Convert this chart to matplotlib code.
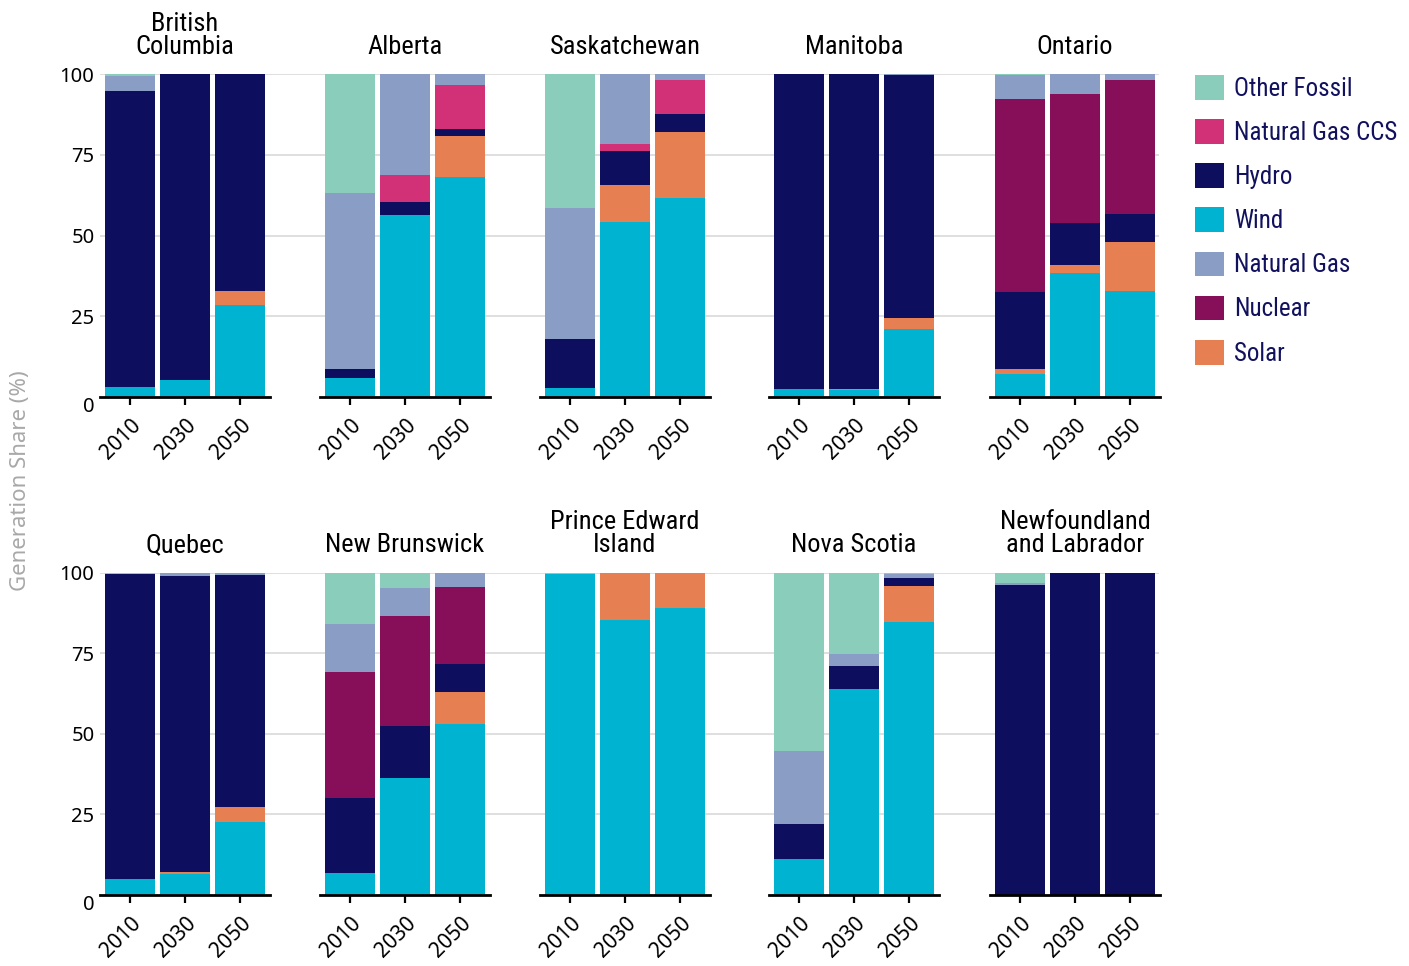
import matplotlib
matplotlib.use("Agg")
import matplotlib.pyplot as plt
from matplotlib import font_manager
from matplotlib.patches import Patch

# provinces in panel order (two rows of five) and scenario years
provinces = ["British\nColumbia", "Alberta", "Saskatchewan", "Manitoba", "Ontario",
             "Quebec", "New Brunswick", "Prince Edward\nIsland", "Nova Scotia",
             "Newfoundland\nand Labrador"]
years = ["2010", "2030", "2050"]

# generation share (%) per province, one row per province: [2010, 2030, 2050]
wind = [[3.0, 5.3, 28.5], [6.0, 56.3, 68.1], [2.9, 54.3, 61.7], [2.5, 2.2, 21.0],
        [7.2, 38.4, 32.8], [5.0, 6.5, 22.7], [6.9, 36.3, 53.0], [99.7, 85.4, 89.1],
        [11.1, 63.8, 84.6], [0, 0, 0]]
solar = [[0, 0, 4.3], [0, 0, 12.7], [0, 11.3, 20.3], [0, 0.3, 3.6],
         [1.5, 2.5, 15.2], [0, 0.6, 4.5], [0, 0, 10.1], [0, 14.6, 10.9],
         [0, 0, 11.3], [0, 0, 0]]
hydro = [[91.8, 94.7, 67.2], [2.7, 4.1, 2.2], [15.1, 10.6, 5.6], [97.5, 97.5, 75.2],
         [23.9, 13.0, 8.7], [94.7, 92.0, 72.2], [23.2, 16.1, 8.7], [0, 0, 0],
         [10.9, 7.1, 2.6], [96.3, 100, 100]]
nuclear = [[0, 0, 0], [0, 0, 0], [0, 0, 0], [0, 0, 0],
           [59.7, 39.9, 41.4], [0, 0, 0], [39.2, 34.3, 23.9], [0, 0, 0],
           [0, 0, 0], [0, 0, 0]]
ng_ccs = [[0, 0, 0], [0, 8.3, 13.6], [0, 2.1, 10.5], [0, 0, 0],
          [0, 0, 0], [0, 0, 0], [0, 0, 0], [0, 0, 0],
          [0, 0, 0], [0, 0, 0]]
natural_gas = [[4.6, 0, 0], [54.4, 31.3, 3.4], [40.5, 21.7, 1.9], [0, 0, 0.2],
               [7.5, 6.2, 1.9], [0, 0.9, 0.6], [14.9, 8.5, 4.3], [0, 0, 0],
               [22.6, 4.0, 1.1], [0.5, 0, 0]]
other_fossil = [[0.6, 0, 0], [36.9, 0, 0], [41.5, 0, 0], [0, 0, 0],
                [0.2, 0, 0], [0.3, 0, 0], [15.8, 4.8, 0], [0.3, 0, 0],
                [55.4, 25.1, 0.4], [3.2, 0, 0]]

# stacking order bottom -> top
stack = [("Wind", wind, "#00B3D1"),
         ("Solar", solar, "#E68052"),
         ("Hydro", hydro, "#0E0E5E"),
         ("Nuclear", nuclear, "#870F5A"),
         ("Natural Gas CCS", ng_ccs, "#D33177"),
         ("Natural Gas", natural_gas, "#8A9DC4"),
         ("Other Fossil", other_fossil, "#8ACDBA")]
legend_order = ["Other Fossil", "Natural Gas CCS", "Hydro", "Wind",
                "Natural Gas", "Nuclear", "Solar"]

# pick a narrow face for titles / legend if one is around
installed = {f.name for f in font_manager.fontManager.ttflist}
narrow = None
for name in ["Liberation Sans Narrow", "Roboto Condensed", "Open Sans Condensed",
             "Noto Sans Condensed", "Fira Sans Condensed"]:
    if name in installed:
        narrow = name
        break
if narrow is None:
    narrow_kw = dict(family="Noto Sans", fontstretch="condensed")
else:
    narrow_kw = dict(family=narrow)

plt.rcParams["font.family"] = ["Noto Sans", "DejaVu Sans"]

W, H = 1409, 966
fig = plt.figure(figsize=(W / 100, H / 100), dpi=100)

lefts = [100, 320, 540, 769, 990]
right_end = 1159
unit = 55.0          # px per bar slot
bar_w = 50 / unit
rows_px = [(74, 397), (572.7, 895)]
navy = "#11115E"

for i, prov in enumerate(provinces):
    r, c = divmod(i, 5)
    top_px, bot_px = rows_px[r]
    l_px = lefts[c]
    r_px = lefts[c + 1] if c < 4 else right_end
    ax = fig.add_axes([l_px / W, 1 - bot_px / H, (r_px - l_px) / W, (bot_px - top_px) / H])

    x = range(len(years))
    bottom = [0, 0, 0]
    for name, vals, col in stack:
        v = vals[i]
        ax.bar(x, v, width=bar_w, bottom=bottom, color=col, linewidth=0, zorder=3)
        bottom = [b + a for b, a in zip(bottom, v)]

    ax.set_xlim(-30 / unit, -30 / unit + (r_px - l_px) / unit)
    ax.set_ylim(0, 100)
    for s in ["top", "right", "left"]:
        ax.spines[s].set_visible(False)
    ax.spines["bottom"].set_bounds(-30 / unit, 2 + 30 / unit)
    ax.spines["bottom"].set_linewidth(2.0)
    ax.spines["bottom"].set_zorder(4)

    ax.set_yticks([25, 50, 75, 100])
    ax.yaxis.grid(True, color="#DCDCDC", linewidth=1.3, zorder=0)
    ax.tick_params(axis="y", length=0, pad=4, labelsize=14.5)
    if c != 0:
        ax.tick_params(axis="y", labelleft=False)
    else:
        ax.annotate("0", xy=(0, 0), xycoords="axes fraction", xytext=(-4, -7),
                    textcoords="offset points", ha="right", va="center", fontsize=14.5)

    ax.set_xticks(list(x))
    ax.set_xticklabels(years, rotation=45, ha="right", va="top", rotation_mode="anchor")
    ax.tick_params(axis="x", length=6, width=1.6, pad=7, labelsize=15)

    ax.annotate(prov, xy=(1, 100), xycoords="data", xytext=(0, 11),
                textcoords="offset points", ha="center", va="bottom",
                fontsize=19, linespacing=0.95, **narrow_kw)

fig.text(21 / W, 1 - 481 / H, "Generation Share (%)", rotation=90, ha="center",
         va="center", fontsize=16, color="#A8A8A8")

colors = {name: col for name, _, col in stack}
handles = [Patch(facecolor=colors[n], edgecolor="none", label=n) for n in legend_order]
fig.legend(handles=handles, loc="upper left", bbox_to_anchor=(1195 / W, 1 - 75 / H),
           frameon=False, borderpad=0, borderaxespad=0, handlelength=1.15,
           handleheight=1.15, handletextpad=0.4, labelspacing=0.73,
           prop=font_manager.FontProperties(size=18, **narrow_kw), labelcolor=navy)

fig.savefig("out.png", dpi=100)
